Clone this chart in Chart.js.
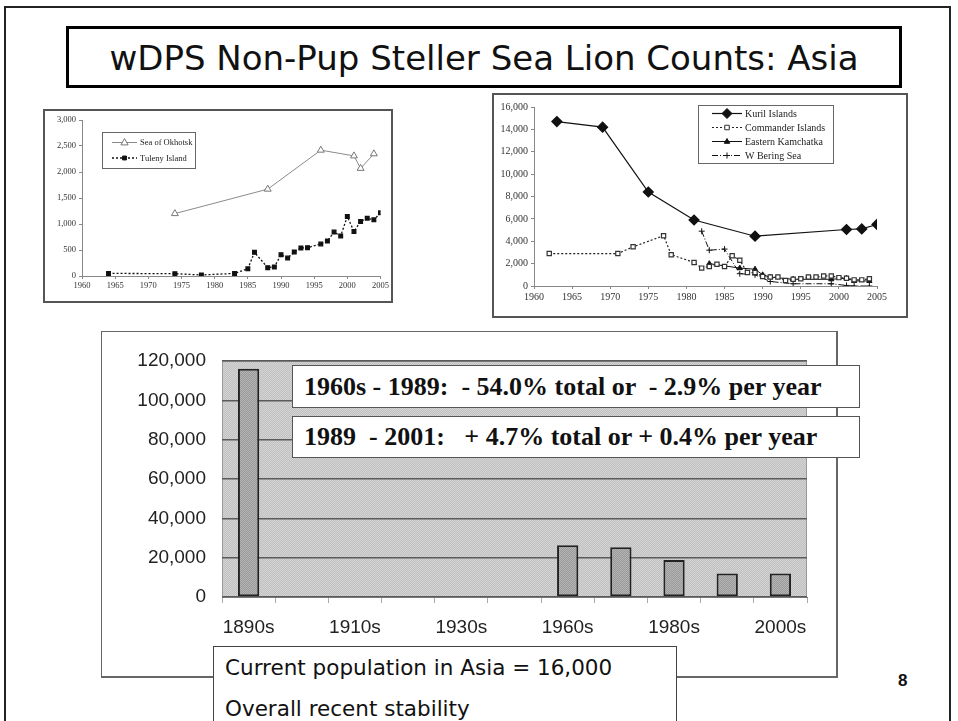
<!DOCTYPE html>
<html>
<head>
<meta charset="utf-8">
<title>wDPS Non-Pup Steller Sea Lion Counts: Asia</title>
<script src="https://cdn.jsdelivr.net/npm/chart.js@4.4.1/dist/chart.umd.min.js"></script>
<style>
  html, body { margin: 0; padding: 0; background: #fff; }
  body { width: 958px; height: 721px; position: relative; overflow: hidden; }
  .abs { position: absolute; box-sizing: border-box; }
  #frame { left: 4px; top: 6px; width: 947px; height: 730px; border: 2px solid #222; }
  #title {
    left: 66px; top: 26px; width: 836px; height: 62px; border: 3px solid #000;
    font-family: "Comic Sans MS", "DejaVu Sans", sans-serif; font-size: 34px; color: #111;
    display: flex; align-items: center; justify-content: center; background: #fff; padding-top: 2px;
  }
  .panel { border: 2px solid #555; background: #fff; }
  #leftPanel { left: 43px; top: 109px; width: 350px; height: 194px; }
  #rightPanel { left: 492px; top: 93px; width: 416px; height: 225px; }
  #bottomPanel { left: 101px; top: 331px; width: 737px; height: 347px; border: 1px solid #666; border-right-width: 2px; border-bottom-width: 2px; }
  .panel canvas { position: absolute; left: 0; top: 0; }
  .note {
    border: 1px solid #555; background: #fff; font-family: "Liberation Serif", "Times New Roman", serif;
    font-weight: bold; font-size: 26px; color: #111; padding-left: 11px; display: flex; align-items: center; white-space: pre;
  }
  #note1 { left: 292px; top: 365px; width: 568px; height: 43px; }
  #note2 { left: 292px; top: 416px; width: 568px; height: 42px; }
  #summary {
    left: 213px; top: 646px; width: 464px; height: 90px; border: 1px solid #444; background: #fff;
    font-family: "Comic Sans MS", "DejaVu Sans", sans-serif; font-size: 21.5px; color: #111; padding: 0 0 0 11px; line-height: 41px;
  }
  #pageNum { left: 898px; top: 671px; font-family: "Liberation Sans", Arial, sans-serif; font-weight: bold; font-size: 17px; color: #111; }
</style>
</head>
<body>
<div id="frame" class="abs"></div>
<div id="title" class="abs">wDPS Non-Pup Steller Sea Lion Counts: Asia</div>

<div id="leftPanel" class="abs panel"><canvas id="russiaNorthChart" width="346" height="190"></canvas></div>
<div id="rightPanel" class="abs panel"><canvas id="russiaEastChart" width="412" height="221"></canvas></div>
<div id="bottomPanel" class="abs"><canvas id="asiaDecadeChart" width="734" height="344" style="position:absolute;left:0;top:0"></canvas></div>

<div id="note1" class="abs note">1960s - 1989:  - 54.0% total or  - 2.9% per year</div>
<div id="note2" class="abs note">1989  - 2001:   + 4.7% total or + 0.4% per year</div>
<div id="summary" class="abs">Current population in Asia = 16,000<br>Overall recent stability</div>
<div id="pageNum" class="abs">8</div>

<script>
// ---- Sea of Okhotsk / Tuleny Island (top left) ----
const okhotskYears = [1974, 1988, 1996, 2001, 2002, 2004];
const okhotskCounts = [1200, 1670, 2420, 2310, 2070, 2350];
const tulenyYears = [1964, 1974, 1978, 1983, 1985, 1986, 1988, 1989, 1990, 1991, 1992, 1993, 1994,
                     1996, 1997, 1998, 1999, 2000, 2001, 2002, 2003, 2004, 2005];
const tulenyCounts = [50, 45, 20, 50, 140, 455, 160, 175, 410, 345, 460, 540, 545,
                      615, 675, 845, 770, 1145, 855, 1050, 1110, 1080, 1215];
const leftYTicks = [0, 500, 1000, 1500, 2000, 2500, 3000];

// ---- Kuril / Commander / Kamchatka / W Bering (top right) ----
const kurilYears = [1963, 1969, 1975, 1981, 1989, 2001, 2003, 2005];
const kurilCounts = [14700, 14200, 8400, 5900, 4450, 5050, 5100, 5500];
const commanderYears = [1962, 1971, 1973, 1977, 1978, 1981, 1982, 1983, 1984, 1985, 1986, 1987, 1988, 1989,
                        1990, 1991, 1992, 1993, 1994, 1995, 1996, 1997, 1998, 1999, 2000, 2001, 2002, 2003, 2004];
const commanderCounts = [2900, 2900, 3500, 4500, 2800, 2100, 1600, 1750, 1950, 1750, 2700, 2300, 1200, 1200,
                         850, 800, 800, 500, 600, 650, 800, 800, 900, 900, 750, 700, 550, 550, 650];
const kamchatkaYears = [1983, 1987, 1989, 1990, 1991, 1994, 1999, 2001, 2002, 2004];
const kamchatkaCounts = [2000, 1600, 1500, 1000, 800, 600, 600, 700, 450, 450];
const beringYears = [1982, 1983, 1985, 1987, 1989, 1991, 1994, 1999, 2001, 2002, 2004];
const beringCounts = [4900, 3200, 3300, 1100, 1000, 400, 200, 200, 50, 0, 0];

// ---- Asia totals by decade (bottom) ----
const decades = ['1890s', '1900s', '1910s', '1920s', '1930s', '1940s', '1960s', '1970s', '1980s', '1990s', '2000s'];
const asiaCounts = [116000, null, null, null, null, null, 26300, 25300, 18800, 11900, 11900];

Chart.defaults.animation = false;
Chart.defaults.devicePixelRatio = 1;

function toPoints(xs, ys) {
    return xs.map((x, i) => ({ x: x, y: ys[i] }));
}

// small dithered fill, looks like the scanned slide
function dither(c1, c2) {
    const c = document.createElement('canvas');
    c.width = 2; c.height = 2;
    const g = c.getContext('2d');
    g.fillStyle = c1; g.fillRect(0, 0, 2, 2);
    g.fillStyle = c2; g.fillRect(0, 0, 1, 1); g.fillRect(1, 1, 1, 1);
    return g.createPattern(c, 'repeat');
}

function drawMarker(ctx, style, x, y, r, fill, stroke) {
    ctx.save();
    ctx.fillStyle = fill;
    ctx.strokeStyle = stroke;
    ctx.lineWidth = 1;
    ctx.beginPath();
    if (style === 'triangle') {
        ctx.moveTo(x, y - r);
        ctx.lineTo(x + r * 0.9, y + r * 0.6);
        ctx.lineTo(x - r * 0.9, y + r * 0.6);
        ctx.closePath();
        ctx.fill(); ctx.stroke();
    } else if (style === 'rectRot') {
        ctx.moveTo(x, y - r); ctx.lineTo(x + r, y); ctx.lineTo(x, y + r); ctx.lineTo(x - r, y);
        ctx.closePath();
        ctx.fill(); ctx.stroke();
    } else if (style === 'cross') {
        ctx.moveTo(x - r, y); ctx.lineTo(x + r, y);
        ctx.moveTo(x, y - r); ctx.lineTo(x, y + r);
        ctx.stroke();
    } else {
        ctx.rect(x - r * 0.75, y - r * 0.75, r * 1.5, r * 1.5);
        ctx.fill(); ctx.stroke();
    }
    ctx.restore();
}

// Excel style legend box drawn inside the plot
const boxLegend = {
    id: 'boxLegend',
    afterDatasetsDraw(chart, args, opts) {
        if (!opts || !opts.rowY) return;
        const ctx = chart.ctx;
        ctx.save();
        ctx.fillStyle = '#fff';
        ctx.fillRect(opts.x, opts.y, opts.w, opts.h);
        ctx.strokeStyle = '#666';
        ctx.lineWidth = 1;
        ctx.strokeRect(opts.x + 0.5, opts.y + 0.5, opts.w, opts.h);
        ctx.font = opts.font;
        ctx.textBaseline = 'middle';
        chart.data.datasets.forEach((ds, i) => {
            const y = opts.rowY[i];
            ctx.strokeStyle = ds.borderColor;
            ctx.lineWidth = ds.borderWidth;
            ctx.setLineDash(ds.borderDash || []);
            ctx.beginPath();
            ctx.moveTo(opts.lineX0, y);
            ctx.lineTo(opts.lineX1, y);
            ctx.stroke();
            ctx.setLineDash([]);
            drawMarker(ctx, ds.pointStyle, (opts.lineX0 + opts.lineX1) / 2, y, ds.pointRadius,
                ds.pointBackgroundColor, ds.pointBorderColor);
            ctx.fillStyle = '#222';
            ctx.fillText(ds.label, opts.textX, y + 0.5);
        });
        ctx.restore();
    }
};

const plotBackground = {
    id: 'plotBackground',
    beforeDraw(chart, args, opts) {
        if (!opts || !opts.fill) return;
        const a = chart.chartArea;
        const ctx = chart.ctx;
        ctx.save();
        ctx.fillStyle = opts.fill;
        ctx.fillRect(a.left, a.top, a.right - a.left, a.bottom - a.top);
        ctx.strokeStyle = '#999';
        ctx.lineWidth = 1;
        ctx.strokeRect(a.left + 0.5, a.top + 0.5, a.right - a.left - 1, a.bottom - a.top);
        ctx.restore();
    }
};

function smallAxes(xMin, xMax, yMax, yStep, fontSize, yWidth, xHeight) {
    const font = { family: 'Liberation Serif', size: fontSize };
    return {
        x: {
            type: 'linear', min: xMin, max: xMax,
            ticks: { stepSize: 5, font: font, color: '#333', padding: 2, maxRotation: 0,
                     callback: v => String(v) },
            grid: { drawOnChartArea: false, tickLength: 3, color: '#888' },
            border: { color: '#888' },
            afterFit: s => { s.height = xHeight; }
        },
        y: {
            min: 0, max: yMax,
            ticks: { stepSize: yStep, font: font, color: '#333', padding: 3,
                     callback: v => v.toLocaleString('en-US') },
            grid: { drawOnChartArea: false, tickLength: 3, color: '#888' },
            border: { color: '#888' },
            afterFit: s => { s.width = yWidth; }
        }
    };
}

function initLeftChart() {
    const ctx = document.getElementById('russiaNorthChart').getContext('2d');
    new Chart(ctx, {
        type: 'scatter',
        data: {
            datasets: [{
                label: 'Sea of Okhotsk',
                data: toPoints(okhotskYears, okhotskCounts),
                showLine: true,
                borderColor: '#8a8a8a',
                borderWidth: 1,
                pointStyle: 'triangle',
                pointRadius: 4,
                pointBackgroundColor: '#fff',
                pointBorderColor: '#777'
            }, {
                label: 'Tuleny Island',
                data: toPoints(tulenyYears, tulenyCounts),
                showLine: true,
                borderColor: '#111',
                borderWidth: 1.3,
                borderDash: [2, 2],
                pointStyle: 'rect',
                pointRadius: 2.6,
                pointBackgroundColor: '#111',
                pointBorderColor: '#111'
            }]
        },
        options: {
            responsive: false,
            layout: { padding: { left: 0, right: 10, top: 9, bottom: 0 } },
            plugins: {
                legend: { display: false },
                tooltip: { enabled: false },
                boxLegend: {
                    x: 57, y: 21, w: 93, h: 36, lineX0: 67, lineX1: 92, textX: 95,
                    rowY: [31.5, 47], font: '8.5px "Liberation Serif"'
                }
            },
            scales: smallAxes(1960, 2005, leftYTicks[leftYTicks.length - 1], 500, 8.5, 37, 25)
        },
        plugins: [boxLegend]
    });
}

function initRightChart() {
    const ctx = document.getElementById('russiaEastChart').getContext('2d');
    new Chart(ctx, {
        type: 'scatter',
        data: {
            datasets: [{
                label: 'Kuril Islands',
                data: toPoints(kurilYears, kurilCounts),
                showLine: true,
                borderColor: '#111',
                borderWidth: 1.2,
                pointStyle: 'rectRot',
                pointRadius: 5,
                pointBackgroundColor: '#111',
                pointBorderColor: '#111'
            }, {
                label: 'Commander Islands',
                data: toPoints(commanderYears, commanderCounts),
                showLine: true,
                borderColor: '#222',
                borderWidth: 1.2,
                borderDash: [2, 2],
                pointStyle: 'rect',
                pointRadius: 3,
                pointBackgroundColor: '#fff',
                pointBorderColor: '#333'
            }, {
                label: 'Eastern Kamchatka',
                data: toPoints(kamchatkaYears, kamchatkaCounts),
                showLine: true,
                borderColor: '#111',
                borderWidth: 1,
                pointStyle: 'triangle',
                pointRadius: 3,
                pointBackgroundColor: '#111',
                pointBorderColor: '#111'
            }, {
                label: 'W Bering Sea',
                data: toPoints(beringYears, beringCounts),
                showLine: true,
                borderColor: '#111',
                borderWidth: 1,
                borderDash: [6, 2, 1, 2],
                pointStyle: 'cross',
                pointRadius: 3,
                pointBackgroundColor: '#111',
                pointBorderColor: '#111'
            }]
        },
        options: {
            responsive: false,
            layout: { padding: { left: 0, right: 29, top: 12, bottom: 0 } },
            plugins: {
                legend: { display: false },
                tooltip: { enabled: false },
                boxLegend: {
                    x: 204, y: 10, w: 135, h: 58, lineX0: 218, lineX1: 248, textX: 251,
                    rowY: [18.5, 32.5, 46.5, 60.5], font: '10px "Liberation Serif"'
                }
            },
            scales: smallAxes(1960, 2005, 16000, 2000, 10, 40, 30)
        },
        plugins: [boxLegend]
    });
}

function initBottomChart() {
    const ctx = document.getElementById('asiaDecadeChart').getContext('2d');
    const axisFont = { family: 'Liberation Sans', size: 19 };
    new Chart(ctx, {
        type: 'bar',
        data: {
            labels: decades,
            datasets: [{
                label: 'Non-pup count',
                data: asiaCounts,
                backgroundColor: dither('#9a9a9a', '#b4b4b4'),
                borderColor: '#222',
                borderWidth: 2,
                borderSkipped: false,
                barPercentage: 0.4,
                categoryPercentage: 1
            }]
        },
        options: {
            responsive: false,
            layout: { padding: { left: 0, right: 29, top: 29, bottom: 0 } },
            plugins: {
                legend: { display: false },
                tooltip: { enabled: false },
                plotBackground: { fill: dither('#c0c0c0', '#d4d4d4') }
            },
            scales: {
                x: {
                    grid: { offset: true, drawOnChartArea: false, tickLength: 6, color: '#aaa' },
                    border: { color: '#777' },
                    ticks: {
                        autoSkip: false, maxRotation: 0, padding: 13, font: axisFont, color: '#222',
                        callback: function(value, index) {
                            return index % 2 === 0 ? this.getLabelForValue(value) : '';
                        }
                    },
                    afterFit: s => { s.height = 79; }
                },
                y: {
                    min: 0, max: 120000,
                    ticks: { stepSize: 20000, padding: 16, font: axisFont, color: '#222',
                             callback: v => v.toLocaleString('en-US') },
                    grid: { color: '#5a5a5a', lineWidth: 1.5, drawTicks: false },
                    border: { display: false },
                    afterFit: s => { s.width = 120; }
                }
            }
        },
        plugins: [plotBackground]
    });
}

document.addEventListener('DOMContentLoaded', function() {
    if (typeof Chart === 'undefined') {
        console.error('Chart.js is not loaded');
        return;
    }
    initLeftChart();
    initRightChart();
    initBottomChart();
});
</script>
</body>
</html>
